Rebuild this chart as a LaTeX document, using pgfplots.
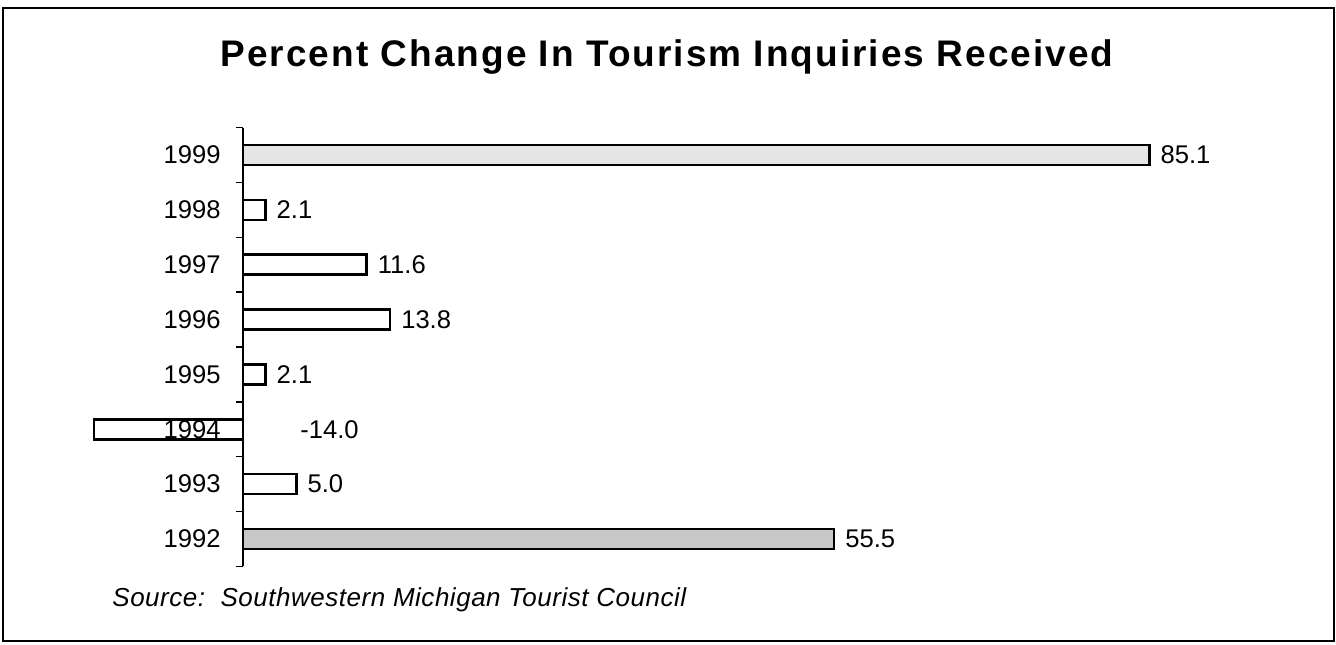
\documentclass[border=0pt]{standalone}
\usepackage{pgfplots}
\pgfplotsset{compat=1.18}
\usepackage{fontspec}
\setmainfont{Liberation Sans}
\begin{document}
\begin{tikzpicture}[x=1pt,y=1pt]
\path[use as bounding box] (-121.5,-52.5) rectangle (546.5,269.5);
\draw[line width=0.6pt] (-120,-51) rectangle (545.5,265.5);
\node[font=\fontsize{18.5}{21}\selectfont\bfseries\addfontfeature{LetterSpace=5.5}] at (212,241) {Percent Change In Tourism Inquiries Received};
\node[font=\fontsize{13}{15}\selectfont\itshape\addfontfeature{LetterSpace=2}, anchor=west, inner sep=0pt] at (-65.5,-30.5) {Source:\ \ Southwestern Michigan Tourist Council};
\begin{axis}[
  at={(0,0)}, anchor=origin,
  scale only axis, width=559.1pt, height=219.4pt,
  xmin=-15, xmax=90, ymin=-0.5, ymax=7.5,
  axis x line=none, axis y line=center,
  y axis line style={-, line width=0.75pt},
  axis on top,
  xbar, bar width=10pt, bar shift=0pt,
  ytick={0,1,2,3,4,5,6,7},
  yticklabels={1992,1993,1994,1995,1996,1997,1998,1999},
  major tick length=0pt,
  yticklabel style={font=\fontsize{12.8}{15}\selectfont, anchor=east, inner sep=0pt, xshift=-11pt},
  extra y ticks={-0.5,0.5,1.5,2.5,3.5,4.5,5.5,6.5,7.5},
  extra y tick labels={},
  extra y tick style={major tick length=3.75pt, tick align=outside, tick style={black, line width=0.75pt}},
  point meta=explicit symbolic,
  nodes near coords,
  every node near coord/.append style={font=\fontsize{12.8}{15}\selectfont, anchor=west, inner sep=0pt, xshift=5pt},
]
\addplot[draw=black, line width=1.3pt, fill=white] coordinates {
  (5.0,1) [5.0]
  (2.1,3) [2.1]
  (13.8,4) [13.8]
  (11.6,5) [11.6]
  (2.1,6) [2.1]
};
\addplot[draw=black, line width=1.3pt, fill=black!10] coordinates {
  (85.1,7) [85.1]
};
\addplot[draw=black, line width=1.3pt, fill=black!22] coordinates {
  (55.5,0) [55.5]
};
\addplot[draw=black, line width=1.3pt, fill=white, nodes near coords={}] coordinates {
  (-14.0,2) []
};
\node[font=\fontsize{12.8}{15}\selectfont, anchor=west, inner sep=0pt] at (axis cs:5.35,2) {-14.0};
\end{axis}
\end{tikzpicture}
\end{document}
